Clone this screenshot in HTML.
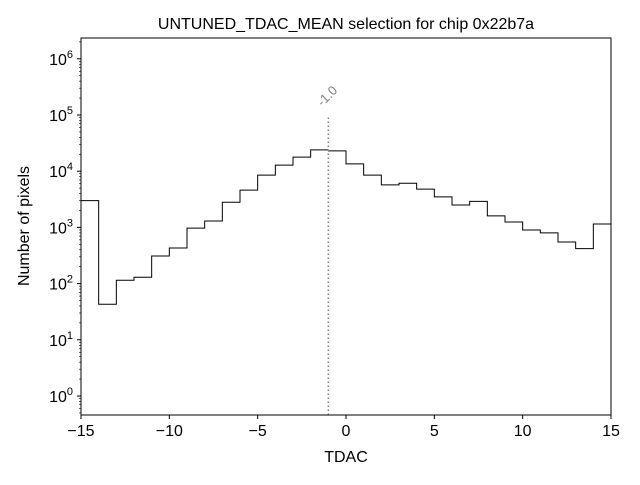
<!DOCTYPE html>
<html><head><meta charset="utf-8"><style>
body{margin:0;background:#fff;}
svg text{font-family:"Liberation Sans","DejaVu Sans",sans-serif;}
</style></head><body>
<svg id="chart" width="640" height="480" xmlns="http://www.w3.org/2000/svg">
<rect width="640" height="480" fill="#fff"/>
<text x="346" y="29" font-size="16" text-anchor="middle">UNTUNED_TDAC_MEAN selection for chip 0x22b7a</text>
<g id="plot"></g>
<rect x="81" y="38" width="530" height="377" fill="none" stroke="#000" stroke-width="1"/>
<text x="346" y="462" font-size="16" text-anchor="middle">TDAC</text>
<text transform="translate(29,226) rotate(-90)" font-size="16" text-anchor="middle">Number of pixels</text>
</svg>
<script>
const binEdges=[-15,-14,-13,-12,-11,-10,-9,-8,-7,-6,-5,-4,-3,-2,-1,0,1,2,3,4,5,6,7,8,9,10,11,12,13,14,15];
const counts=[3000,43,115,130,310,430,970,1300,2800,4600,8500,12800,17800,24000,23000,13500,8500,5700,6100,4800,3500,2500,2900,1600,1250,900,800,550,420,1150];
const xTicks=[-15,-10,-5,0,5,10,15];
const xTickLabels=["\u221215","\u221210","\u22125","0","5","10","15"];
const yTickExps=[0,1,2,3,4,5,6];
const markerX=-1.0;
const markerTop=100000;
const markerLabel="-1.0";

const NS="http://www.w3.org/2000/svg";
const X0=81,X1=611,Y0=415,Y1=38;
function xs(v){return X0+(v+15)/30*(X1-X0);}
function ys(v){return 396-Math.log10(v)*56.2;}
const g=document.getElementById('plot');
function mk(t,a){const e=document.createElementNS(NS,t);for(const k in a)e.setAttribute(k,a[k]);g.appendChild(e);return e;}

let d="M"+xs(binEdges[0])+","+Y0;
for(let i=0;i<counts.length;i++){
  const y=Math.max(Y1,Math.min(Y0,ys(counts[i])));
  d+=" L"+xs(binEdges[i])+","+y+" L"+xs(binEdges[i+1])+","+y;
}
d+=" L"+xs(binEdges[binEdges.length-1])+","+Y0;
const p=mk('path',{d:d,fill:'none',stroke:'#000','stroke-width':1});



const ml=mk('line',{x1:xs(markerX),x2:xs(markerX),y1:Y0,y2:ys(markerTop),stroke:'#808080','stroke-width':1.5,'stroke-dasharray':'1.5,2.5'});


const mt=mk('text',{x:xs(markerX)-6,y:ys(markerTop)-8,'font-size':13,fill:'#808080',transform:'rotate(-45 '+(xs(markerX)-6)+' '+(ys(markerTop)-8)+')'});
mt.textContent=markerLabel;



xTicks.forEach((v,i)=>{
  const t=mk('line',{x1:xs(v),x2:xs(v),y1:Y0,y2:Y0+4,stroke:'#000'});
  
  
  const l=mk('text',{x:xs(v),y:Y0+21,'font-size':16,'text-anchor':'middle'});
  l.textContent=xTickLabels[i];
  
  
});
yTickExps.forEach(e=>{
  const y=ys(Math.pow(10,e));
  const t=mk('line',{x1:X0-4,x2:X0,y1:y,y2:y,stroke:'#000'});
  
  
  const l=mk('text',{x:X0-8,y:y+6,'font-size':16,'text-anchor':'end'});
  l.innerHTML='10<tspan dy="-7" font-size="11">'+e+'</tspan>';
  
  
  for(let m=2;m<10;m++){
    const v=Math.pow(10,e)*m;const yy=ys(v);
    if(yy<Y1||yy>Y0)continue;
    const mn=mk('line',{x1:X0-2,x2:X0,y1:yy,y2:yy,stroke:'#000','stroke-width':0.6});
    
    
  }
});
[ys(0.9),ys(0.8),ys(0.7),ys(0.6),ys(0.5)].forEach(yy=>{if(yy<=Y0){const mn=mk('line',{x1:X0-2,x2:X0,y1:yy,y2:yy,stroke:'#000','stroke-width':0.6});}});
</script>
</body></html>
